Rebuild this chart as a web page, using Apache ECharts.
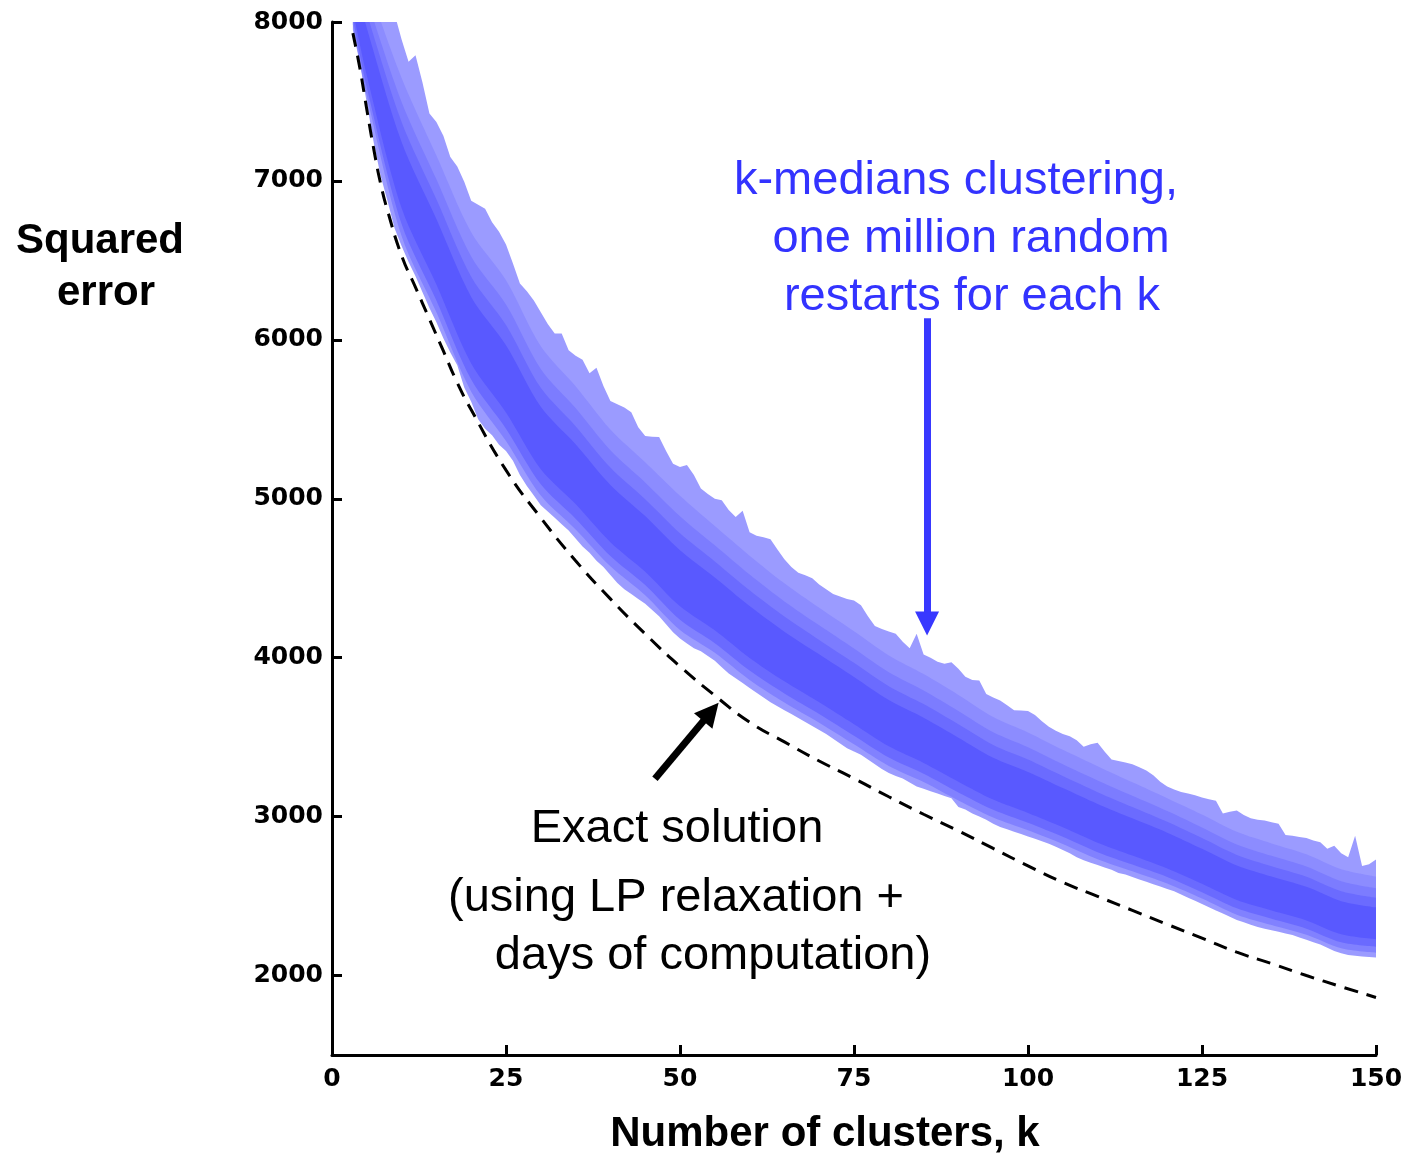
<!DOCTYPE html>
<html>
<head>
<meta charset="utf-8">
<script src="https://cdn.jsdelivr.net/npm/echarts@6/dist/echarts.min.js"></script>
<style>
html,body{margin:0;padding:0;background:#fff;}
#chart{width:1406px;height:1155px;}
</style>
</head>
<body>
<div id="chart"></div>
<script>
// ---- data ----
// k-medians restarts: outer upper edge (worst shown) for k = 3..150
const upperEdge = [
8600,8480,8380,8280,8190,8110,8050,7890,7750,7790,7620,7425,7370,7285,7150,7090,6995,6875,6850,6825,
6740,6680,6600,6480,6355,6305,6247,6173,6100,6040,6040,5935,5900,5875,5790,5825,5710,5615,5595,5575,
5545,5450,5395,5390,5388,5300,5220,5200,5212,5150,5065,5030,5000,4990,4930,4885,4925,4790,4768,4758,
4745,4680,4620,4570,4535,4518,4500,4460,4430,4400,4385,4370,4360,4330,4260,4200,4180,4165,4150,4100,
4060,4150,4020,4000,3975,3962,3972,3930,3880,3860,3856,3772,3750,3730,3700,3670,3667,3665,3640,3600,
3565,3540,3520,3505,3480,3440,3455,3465,3410,3360,3350,3340,3330,3310,3290,3260,3220,3190,3170,3155,
3145,3135,3120,3110,3100,3020,3030,3038,3010,2990,2980,2975,2965,2955,2885,2880,2872,2865,2850,2838,
2798,2817,2770,2745,2880,2690,2700,2730];
// outer lower edge (best restart) for k = 3..150
const lowerEdge = [
7950,7740,7490,7240,7030,6870,6700,6590,6490,6400,6300,6200,6110,6010,5920,5840,5700,5610,5500,5440,
5400,5340,5300,5240,5150,5080,5020,4960,4920,4880,4840,4800,4750,4700,4660,4610,4570,4520,4470,4430,
4400,4370,4340,4300,4260,4210,4160,4120,4090,4060,4040,4010,3980,3940,3900,3870,3840,3810,3780,3750,
3720,3695,3670,3645,3620,3595,3570,3545,3520,3490,3460,3430,3410,3390,3360,3330,3300,3275,3255,3240,
3215,3190,3175,3160,3145,3130,3115,3060,3045,3020,3000,2980,2955,2935,2920,2905,2890,2875,2860,2845,
2830,2810,2790,2770,2745,2725,2710,2695,2680,2665,2645,2635,2620,2605,2590,2575,2560,2545,2530,2510,
2490,2470,2450,2430,2410,2390,2370,2350,2335,2320,2305,2295,2285,2275,2265,2255,2240,2225,2210,2195,
2175,2155,2140,2130,2125,2120,2117,2114];
const firstK = 3;

// inner shading levels of the band, read at coarse k
const bandK = [3,5,10,15,20,25,30,35,40,45,50,55,60,65,70,75,80,85,90,95,100,105,110,115,120,125,130,135,140,145,150];
const q05 = [7983,7536,6653,6173,5674,5364,5020,4807,4575,4393,4174,4031,3860,3718,3591,3455,3319,3218,3102,2995,2914,2828,2732,2656,2579,2484,2383,2318,2257,2172,2144];
const q11 = [8022,7590,6729,6248,5750,5441,5091,4875,4640,4457,4238,4091,3919,3775,3646,3509,3372,3270,3152,3043,2961,2873,2776,2698,2620,2524,2423,2357,2295,2209,2181];
const q19 = [8074,7663,6829,6348,5851,5543,5186,4967,4727,4541,4323,4172,3998,3851,3719,3581,3442,3338,3220,3107,3023,2933,2836,2755,2674,2577,2475,2409,2347,2260,2229];
const q52 = [8288,7963,7245,6760,6270,5966,5579,5343,5087,4891,4676,4505,4325,4164,4021,3878,3733,3622,3497,3371,3281,3180,3080,2989,2899,2798,2693,2623,2558,2468,2429];
const q62 = [8353,8054,7371,6885,6397,6094,5698,5457,5196,4997,4783,4606,4424,4259,4112,3968,3821,3708,3581,3451,3359,3255,3154,3060,2967,2865,2759,2688,2622,2531,2490];
const q72 = [8418,8145,7497,7010,6524,6222,5817,5571,5305,5103,4890,4707,4523,4354,4204,4058,3909,3794,3665,3531,3437,3330,3228,3131,3035,2932,2825,2753,2686,2594,2550];
const q84 = [8496,8254,7648,7160,6677,6375,5960,5708,5436,5230,5019,4828,4642,4468,4314,4166,4014,3897,3766,3627,3530,3420,3317,3216,3116,3013,2904,2831,2763,2669,2623];

// exact solution (dashed)
const exactK = [3,4,5,6,7,8,10,12,14,16,18,20,25,30,35,40,45,50,55,60,65,70,75,80,85,90,95,100,105,110,115,120,125,130,135,140,145,150];
const exactError = [7930,7710,7450,7200,6980,6810,6530,6330,6130,5930,5730,5560,5180,4880,4610,4370,4150,3945,3762,3594,3470,3350,3240,3125,3015,2910,2800,2690,2586,2498,2410,2322,2235,2147,2075,2000,1930,1862];

const yTicks = [2000,3000,4000,5000,6000,7000,8000];

// arrows (annotation anchors in data space)
const blueArrow = [[85.5, 6136], [85.5, 4215]];
const blackArrow = [[46.4, 3239], [54.44, 3659]];

// ---- build ----
const fullPairs = arr => arr.map((v, i) => [firstK + i, v]);
const coarsePairs = arr => arr.map((v, i) => [bandK[i], v]);

// each layer is filled upward from its boundary; later layers overpaint higher regions
function areaSeries(name, data, color, smooth) {
  return {
    name, type: 'line', data, smooth: smooth ? 0.3 : false,
    symbol: 'none', silent: true, animation: false,
    lineStyle: { width: 0 },
    areaStyle: { color, opacity: 1, origin: 'end' },
    z: 2
  };
}

const chart = echarts.init(document.getElementById('chart'), null, { renderer: 'canvas' });
const labelFont = { fontFamily: 'DejaVu Sans', fontSize: 25, fontWeight: 'bold', color: '#000', formatter: v => String(v) };

chart.setOption({
  animation: false,
  backgroundColor: '#fff',
  grid: { left: 332, right: 30, top: 22, bottom: 100 },
  xAxis: {
    type: 'value', min: 0, max: 150, interval: 25, z: 10,
    axisLine: { show: true, onZero: false, lineStyle: { color: '#000', width: 3 } },
    axisTick: { show: true, inside: true, length: 10, lineStyle: { color: '#000', width: 3 } },
    axisLabel: Object.assign({ margin: 12 }, labelFont),
    splitLine: { show: false }
  },
  yAxis: {
    type: 'value', min: 1500, max: 8000, z: 10,
    axisLine: { show: true, onZero: false, lineStyle: { color: '#000', width: 3 } },
    axisTick: { show: true, inside: true, length: 10, customValues: yTicks, lineStyle: { color: '#000', width: 3 } },
    axisLabel: Object.assign({ margin: 9, customValues: yTicks }, labelFont),
    splitLine: { show: false }
  },
  series: [
    areaSeries('lower', fullPairs(lowerEdge), '#9b9bff', false),
    areaSeries('q05', coarsePairs(q05), '#8181ff', true),
    areaSeries('q11', coarsePairs(q11), '#6a6aff', true),
    areaSeries('q19', coarsePairs(q19), '#5959ff', true),
    areaSeries('q52', coarsePairs(q52), '#6b6bff', true),
    areaSeries('q62', coarsePairs(q62), '#7c7cff', true),
    areaSeries('q72', coarsePairs(q72), '#8c8cff', true),
    areaSeries('q84', coarsePairs(q84), '#9b9bff', true),
    areaSeries('upper', fullPairs(upperEdge), '#ffffff', false),
    {
      name: 'exact', type: 'line', data: exactK.map((k, i) => [k, exactError[i]]),
      smooth: true, symbol: 'none', silent: true, animation: false, z: 5,
      lineStyle: { color: '#000', width: 3, type: [14, 9] },
      markLine: {
        silent: true, animation: false,
        symbol: ['none', 'triangle'], symbolSize: [24, 24],
        label: { show: false },
        emphasis: { disabled: true },
        data: [
          [{ coord: blueArrow[0], lineStyle: { color: '#3838ff', width: 7, type: 'solid' } },
           { coord: blueArrow[1] }],
          [{ coord: blackArrow[0], lineStyle: { color: '#000', width: 7, type: 'solid' } },
           { coord: blackArrow[1] }]
        ]
      }
    }
  ],
  graphic: [
    { type: 'text', z: 20, style: { text: 'Squared', x: 100, y: 241, textAlign: 'center', textVerticalAlign: 'middle', font: 'bold 42px "Liberation Sans", Arial, sans-serif', fill: '#000' } },
    { type: 'text', z: 20, style: { text: 'error', x: 106, y: 293, textAlign: 'center', textVerticalAlign: 'middle', font: 'bold 42px "Liberation Sans", Arial, sans-serif', fill: '#000' } },
    { type: 'text', z: 20, style: { text: 'Number of clusters, k', x: 825, y: 1134, textAlign: 'center', textVerticalAlign: 'middle', font: 'bold 42px "Liberation Sans", Arial, sans-serif', fill: '#000' } },
    { type: 'text', z: 20, style: { text: 'k-medians clustering,', x: 956, y: 181, textAlign: 'center', textVerticalAlign: 'middle', font: '47px "Liberation Sans", Arial, sans-serif', fill: '#3333ff' } },
    { type: 'text', z: 20, style: { text: 'one million random', x: 971, y: 239, textAlign: 'center', textVerticalAlign: 'middle', font: '47px "Liberation Sans", Arial, sans-serif', fill: '#3333ff' } },
    { type: 'text', z: 20, style: { text: 'restarts for each k', x: 972, y: 297, textAlign: 'center', textVerticalAlign: 'middle', font: '47px "Liberation Sans", Arial, sans-serif', fill: '#3333ff' } },
    { type: 'text', z: 20, style: { text: 'Exact solution', x: 677, y: 829, textAlign: 'center', textVerticalAlign: 'middle', font: '47px "Liberation Sans", Arial, sans-serif', fill: '#000' } },
    { type: 'text', z: 20, style: { text: '(using LP relaxation +', x: 676, y: 898, textAlign: 'center', textVerticalAlign: 'middle', font: '47px "Liberation Sans", Arial, sans-serif', fill: '#000' } },
    { type: 'text', z: 20, style: { text: 'days of computation)', x: 713, y: 956, textAlign: 'center', textVerticalAlign: 'middle', font: '47px "Liberation Sans", Arial, sans-serif', fill: '#000' } }
  ]
});
</script>
</body>
</html>
